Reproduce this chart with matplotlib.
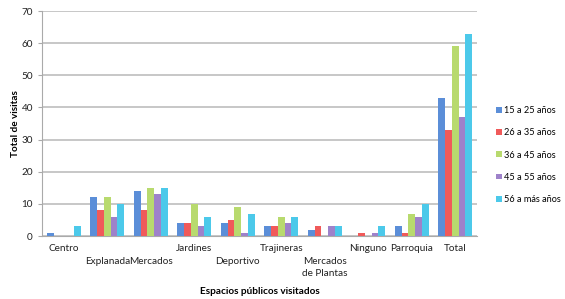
import matplotlib
matplotlib.use("Agg")
import matplotlib.pyplot as plt
import numpy as np

categories = ["Centro", "\nExplanada", "\nMercados", "Jardines", "\nDeportivo",
              "Trajineras", "\nMercados\nde Plantas", "Ninguno", "Parroquia", "Total"]
series_names = ["15 a 25 años", "26 a 35 años", "36 a 45 años", "45 a 55 años", "56 a más años"]

v_15_25 = [1, 12, 14, 4, 4, 3, 2, 0, 3, 43]
v_26_35 = [0, 8, 8, 4, 5, 3, 3, 1, 1, 33]
v_36_45 = [0, 12, 15, 10, 9, 6, 0, 0, 7, 59]
v_45_55 = [0, 6, 13, 3, 1, 4, 3, 1, 6, 37]
v_56_mas = [3, 10, 15, 6, 7, 6, 3, 3, 10, 63]

colors = ["#5B8ED8", "#F05A5A", "#B8DA6E", "#9E82CA", "#4CC9EA"]

plt.rcParams["font.family"] = ["Lato", "DejaVu Sans"]

fig = plt.figure(figsize=(5.65, 2.99), dpi=100)
ax = fig.add_axes([42 / 565, 1 - 236 / 299, 435 / 565, 225 / 299])

x = np.arange(len(categories))
width = 0.155
all_series = [v_15_25, v_26_35, v_36_45, v_45_55, v_56_mas]
for i, (vals, name) in enumerate(zip(all_series, series_names)):
    ax.bar(x + (i - 2) * width, vals, width=width * 0.97, color=colors[i],
           label=name, zorder=3)

ax.set_xlim(-0.5, len(categories) - 0.5)
ax.set_ylim(0, 70)
ax.set_yticks(range(0, 71, 10))
ax.yaxis.grid(True, color="#BDBDBD", linewidth=1.2, zorder=0)
ax.set_xticks(x)
ax.set_xticklabels(categories, fontsize=7.2, linespacing=1.5, color="#222222")
ax.tick_params(axis="x", length=0, pad=6)
ax.tick_params(axis="y", labelsize=7.2, length=3, color="#AAAAAA", labelcolor="#222222")
for side in ["top", "right"]:
    ax.spines[side].set_visible(False)
ax.spines["left"].set_color("#AAAAAA")
ax.spines["bottom"].set_color("#AAAAAA")

ax.set_ylabel("Total de visitas", fontsize=7.2, fontweight="bold")
ax.yaxis.set_label_coords(-0.05, 0.5)
ax.set_xlabel("Espacios públicos visitados", fontsize=7.2, fontweight="bold", labelpad=6)

handles, labels = ax.get_legend_handles_labels()
fig.legend(handles, labels, loc="center left", bbox_to_anchor=(488 / 565, 1 - 155 / 299),
           frameon=False, fontsize=6.6, handlelength=0.6, handleheight=0.6,
           handletextpad=0.3, labelspacing=1.45)

fig.savefig("out.png", dpi=100)
